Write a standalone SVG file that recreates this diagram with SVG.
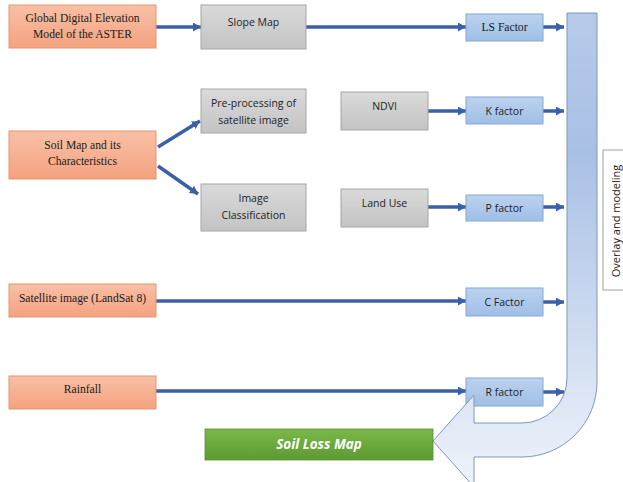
<svg xmlns="http://www.w3.org/2000/svg" width="623" height="482" viewBox="0 0 623 482">
<defs>
<linearGradient id="gOr" x1="0" y1="0" x2="0" y2="1"><stop offset="0" stop-color="#f8c0a6"/><stop offset="1" stop-color="#f4a27f"/></linearGradient>
<linearGradient id="gGr" x1="0" y1="0" x2="0" y2="1"><stop offset="0" stop-color="#dadada"/><stop offset="1" stop-color="#c3c3c3"/></linearGradient>
<linearGradient id="gBl" x1="0" y1="0" x2="0" y2="1"><stop offset="0" stop-color="#bcd2ef"/><stop offset="1" stop-color="#9fbfe6"/></linearGradient>
<linearGradient id="gGn" x1="0" y1="0" x2="0" y2="1"><stop offset="0" stop-color="#7bb84a"/><stop offset="1" stop-color="#5c9b33"/></linearGradient>
<linearGradient id="gAr" gradientUnits="userSpaceOnUse" x1="0" y1="13" x2="0" y2="482"><stop offset="0" stop-color="#b7cae9"/><stop offset="0.3" stop-color="#a9c0e5"/><stop offset="1" stop-color="#eef3fa"/></linearGradient>
<marker id="ah" markerUnits="userSpaceOnUse" markerWidth="10" markerHeight="10" refX="8" refY="4.5" orient="auto"><path d="M0,0 L8,4.5 L0,9 Z" fill="#3b5fa8"/></marker>
</defs>
<style>
.or{fill:url(#gOr);stroke:#e39573;stroke-width:1}
.gr{fill:url(#gGr);stroke:#a6a6a6;stroke-width:1}
.bl{fill:url(#gBl);stroke:#86a8d4;stroke-width:1}
.ts{font-family:"Liberation Serif","DejaVu Serif",serif;font-size:11.6px;fill:#1a1a1a;text-anchor:middle}
.tn{font-family:"Open Sans","Noto Sans",sans-serif;font-size:10.5px;fill:#222;text-anchor:middle}
.cn line{stroke:#3b5fa8;stroke-width:3.5;marker-end:url(#ah)}
</style>
<g id="connectors" class="cn">
<line x1="156" y1="27" x2="201" y2="27"/>
<line x1="306" y1="27" x2="466" y2="27"/>
<line x1="158" y1="147" x2="200" y2="121"/>
<line x1="158" y1="166" x2="198" y2="194"/>
<line x1="428" y1="111" x2="466" y2="111"/>
<line x1="428" y1="207" x2="466" y2="207"/>
<line x1="156" y1="301" x2="466" y2="301"/>
<line x1="156" y1="391" x2="466" y2="391"/>
<line x1="543" y1="27" x2="564" y2="27"/>
<line x1="543" y1="111" x2="564" y2="111"/>
<line x1="543" y1="207" x2="564" y2="207"/>
<line x1="543" y1="302" x2="564" y2="302"/>
<line x1="543" y1="392" x2="564" y2="392"/>
</g>
<g id="dem"><rect class="or" x="9" y="5" width="147" height="43"/><text class="ts" x="82.5" y="22">Global Digital Elevation</text><text class="ts" x="82.5" y="38">Model of the ASTER</text></g>
<g id="soil"><rect class="or" x="9" y="131" width="147" height="48"/><text class="ts" x="82.5" y="149">Soil Map and its</text><text class="ts" x="82.5" y="165">Characteristics</text></g>
<g id="sat"><rect class="or" x="9" y="284" width="147" height="33"/><text class="ts" x="82.5" y="302">Satellite image (LandSat 8)</text></g>
<g id="rain"><rect class="or" x="9" y="376" width="147" height="33"/><text class="ts" x="82.5" y="393">Rainfall</text></g>
<g id="slope"><rect class="gr" x="201" y="5" width="105" height="44"/><text class="tn" x="253.5" y="26">Slope Map</text></g>
<g id="prep"><rect class="gr" x="201" y="89" width="105" height="44"/><text class="tn" x="253.5" y="107">Pre-processing of</text><text class="tn" x="253.5" y="124">satellite image</text></g>
<g id="classif"><rect class="gr" x="201" y="184" width="105" height="47"/><text class="tn" x="253.5" y="202">Image</text><text class="tn" x="253.5" y="219">Classification</text></g>
<g id="ndvi"><rect class="gr" x="341" y="92" width="87" height="38"/><text class="tn" x="384.5" y="110">NDVI</text></g>
<g id="landuse"><rect class="gr" x="341" y="189" width="87" height="38"/><text class="tn" x="384.5" y="207">Land Use</text></g>
<g id="ls"><rect class="bl" x="466" y="14" width="77" height="27"/><text class="ts" x="504.5" y="31">LS Factor</text></g>
<g id="k"><rect class="bl" x="466" y="97" width="77" height="27"/><text class="tn" x="504.5" y="115">K factor</text></g>
<g id="p"><rect class="bl" x="466" y="195" width="77" height="26"/><text class="tn" x="504.5" y="212">P factor</text></g>
<g id="c"><rect class="bl" x="466" y="288" width="77" height="28"/><text class="tn" x="504.5" y="306">C Factor</text></g>
<g id="r"><rect class="bl" x="466" y="378" width="77" height="28"/><text class="tn" x="504.5" y="396">R factor</text></g>
<g id="overlay-arrow"><path d="M567,13 L597,13 L597,382 A75,75 0 0 1 522,457 L474,457 L474,487 L433,441 L474,395 L474,423 L522,423 A45,45 0 0 0 567,378 Z" fill="url(#gAr)" stroke="#7f96bd" stroke-width="1"/></g>
<g id="overlay-label"><rect x="603" y="150" width="30" height="140" fill="#fff" stroke="#a0a0a0" stroke-width="1"/><text class="tn" transform="translate(620,221) rotate(-90)" x="0" y="0" style="font-size:11px">Overlay and modeling</text></g>
<g id="soilloss"><rect x="205" y="429" width="228" height="31" fill="url(#gGn)" stroke="#5a8f35" stroke-width="0.8"/><text x="319" y="449" style="font-family:'Open Sans','Noto Sans',sans-serif;font-size:13.5px;font-weight:bold;font-style:italic;fill:#fff;text-anchor:middle">Soil Loss Map</text></g>
</svg>
